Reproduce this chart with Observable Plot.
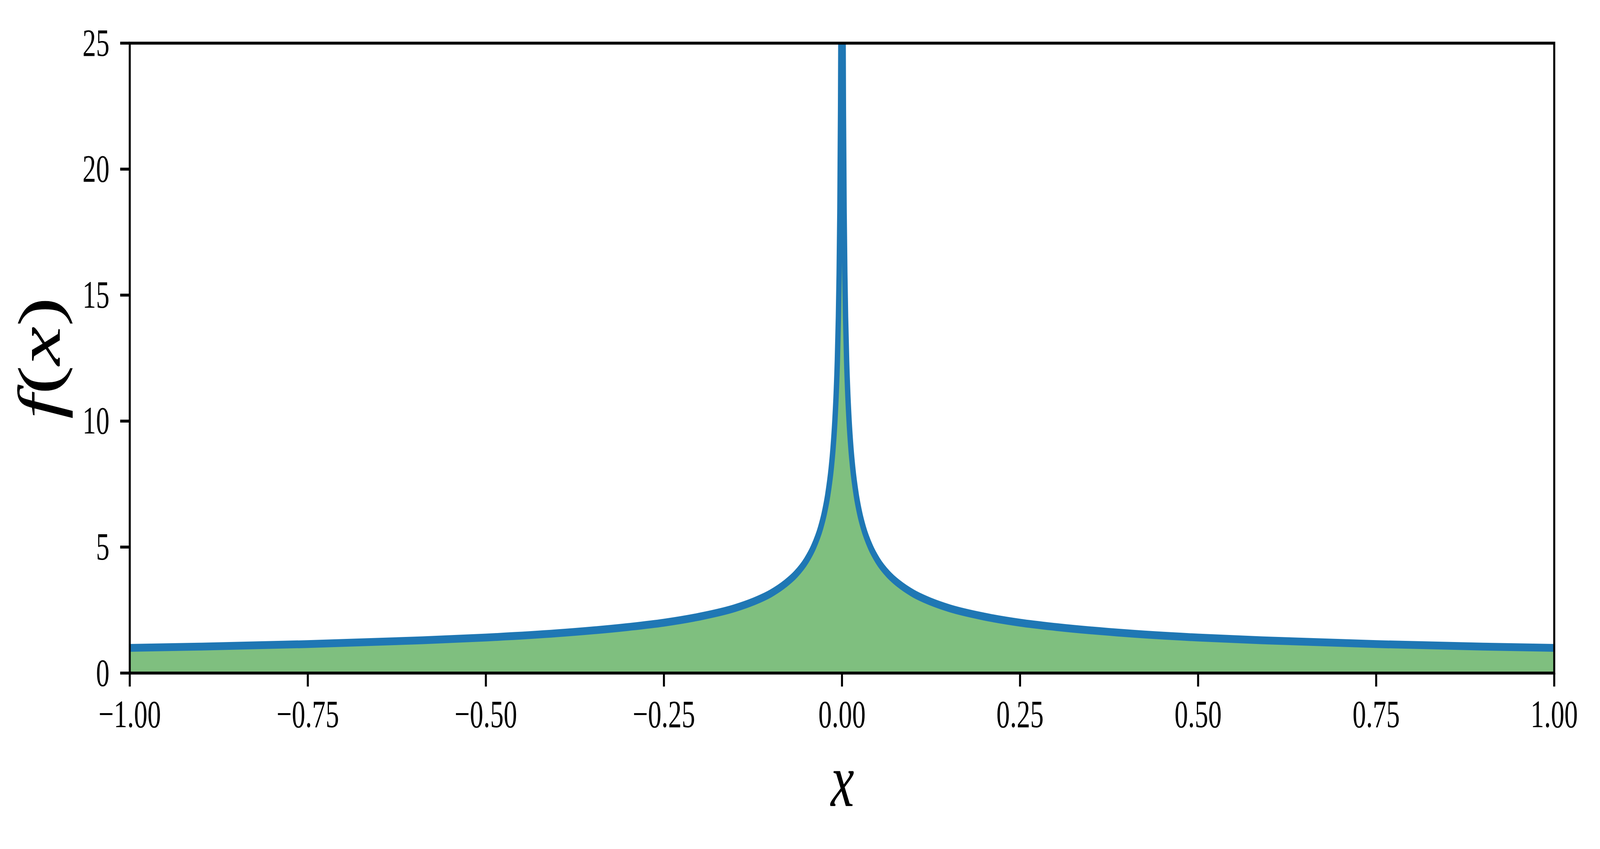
<!DOCTYPE html>
<html>
<head>
<meta charset="utf-8">
<script src="https://cdn.jsdelivr.net/npm/d3@7"></script>
<script src="https://cdn.jsdelivr.net/npm/@observablehq/plot@0.6"></script>
<style>
  html, body { margin: 0; padding: 0; background: #ffffff; overflow: hidden; width: 100vw; height: 100vh; }
  #chart { width: 100vw; height: 100vh; line-height: 0; }
  #chart svg { display: block; width: 100vw !important; height: 100vh !important; max-width: none !important; }
</style>
</head>
<body>
<div id="chart"></div>
<script>
// ---- data ----
const xValues = [
  -1.0, -0.9, -0.75, -0.6, -0.5, -0.4, -0.3, -0.25, -0.2, -0.15, -0.125, -0.1,
  -0.08, -0.065, -0.05, -0.04, -0.03, -0.025, -0.02, -0.015, -0.0125, -0.01,
  -0.008, -0.0065, -0.005, -0.004, -0.003, -0.002, -0.0015, -0.001,
  0.001, 0.0015, 0.002, 0.003, 0.004, 0.005, 0.0065, 0.008, 0.01, 0.0125,
  0.015, 0.02, 0.025, 0.03, 0.04, 0.05, 0.065, 0.08, 0.1, 0.125, 0.15, 0.2,
  0.25, 0.3, 0.4, 0.5, 0.6, 0.75, 0.9, 1.0
];
const fValues = [
  1.00, 1.05, 1.15, 1.29, 1.41, 1.58, 1.83, 2.00, 2.24, 2.58, 2.83, 3.16,
  3.54, 3.92, 4.47, 5.00, 5.77, 6.32, 7.07, 8.16, 8.94, 10.00,
  11.18, 12.40, 14.14, 15.81, 18.26, 22.36, 25.82, 31.62,
  31.62, 25.82, 22.36, 18.26, 15.81, 14.14, 12.40, 11.18, 10.00, 8.94,
  8.16, 7.07, 6.32, 5.77, 5.00, 4.47, 3.92, 3.54, 3.16, 2.83, 2.58, 2.24,
  2.00, 1.83, 1.58, 1.41, 1.29, 1.15, 1.05, 1.00
];
const xTicks = [-1.0, -0.75, -0.5, -0.25, 0.0, 0.25, 0.5, 0.75, 1.0];
const yTicks = [0, 5, 10, 15, 20, 25];
const xLabel = "x";
const yLabel = "f(x)";

const data = xValues.map((x, i) => ({x, f: fValues[i]}));

const fmt2 = d3.format(".2f");

// chart is designed in the reference's 5925 x 2174 coordinate space
const W = 5925, H = 2174;
const mLeft = 480, mRight = 170, mTop = 110, mBottom = 451;

const svg = Plot.plot({
  width: W,
  height: H,
  marginLeft: mLeft,
  marginRight: mRight,
  marginTop: mTop,
  marginBottom: mBottom,
  style: {fontFamily: "'Liberation Serif', 'DejaVu Serif', serif", background: "#ffffff", color: "#000000"},
  x: {domain: [-1, 1]},
  y: {domain: [0, 25]},
  marks: [
    Plot.areaY(data, {x: "x", y: "f", fill: "#008000", fillOpacity: 0.5, curve: "monotone-x", clip: true}),
    Plot.lineY(data, {x: "x", y: "f", stroke: "#1f77b4", strokeWidth: 20, curve: "monotone-x", clip: true, strokeLinecap: "butt"}),
    Plot.frame({stroke: "#000000", strokeWidth: 7.5}),
    Plot.axisX({ticks: xTicks, tickFormat: fmt2, tickSize: 35, tickPadding: 32, fontSize: 100, strokeWidth: 7.5, label: null, fontVariant: "normal"}),
    Plot.axisY({ticks: yTicks, tickFormat: d3.format("d"), tickSize: 35, tickPadding: 40, fontSize: 100, strokeWidth: 7.5, label: null, fontVariant: "normal"}),
    Plot.text([xLabel], {frameAnchor: "bottom", dy: 275, fontSize: 195, fontStyle: "italic", text: d => d}),
    Plot.text([yLabel], {frameAnchor: "left", dx: -335, rotate: -90, fontSize: 225, text: d => d})
  ]
});

// the screenshot viewport may be narrower than the reference: stretch the design to fill it
svg.setAttribute("viewBox", `0 0 ${W} ${H}`);
svg.setAttribute("preserveAspectRatio", "none");

// upright parentheses, italic letters (as in the math label)
const yLab = d3.select(svg).selectAll("text").filter(function() { return this.textContent === yLabel; });
yLab.each(function() {
  const t = d3.select(this);
  t.text(null);
  [["f", "italic"], ["(", "normal"], ["x", "italic"], [")", "normal"]].forEach(([s, st]) => {
    t.append("tspan").attr("font-style", st).text(s);
  });
});
const xLab = d3.select(svg).selectAll("text").filter(function() { return this.textContent === xLabel; });

document.getElementById("chart").appendChild(svg);

// center each axis label's text box on its anchor point
function centerOn(sel) {
  sel.each(function() {
    this.removeAttribute("dy");
    this.setAttribute("y", 0);
    this.setAttribute("x", 0);
    const bb = this.getBBox();
    this.setAttribute("x", -(bb.x + bb.width / 2));
    this.setAttribute("y", -(bb.y + bb.height / 2));
  });
}
centerOn(yLab);
centerOn(xLab);
</script>
</body>
</html>
